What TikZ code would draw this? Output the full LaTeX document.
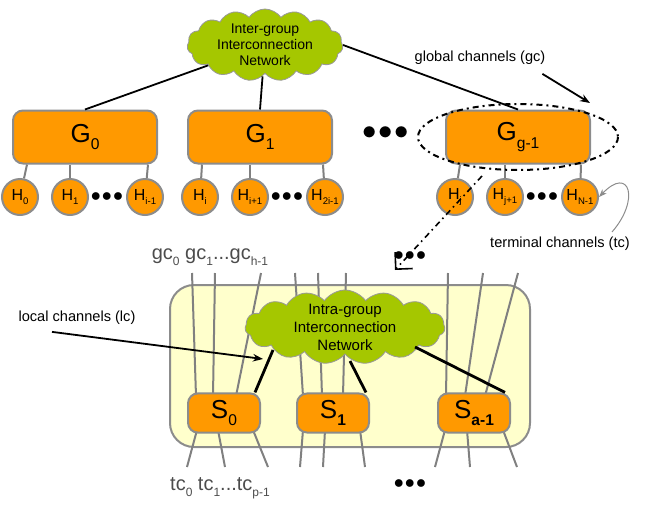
\documentclass[tikz,border=0pt]{standalone}
\usepackage{fontspec}
\setmainfont{Liberation Sans}
\usetikzlibrary{shapes.symbols,arrows.meta}
\definecolor{boxorange}{HTML}{FF9900}
\definecolor{cloudgreen}{HTML}{A5C700}
\definecolor{panelyellow}{HTML}{FFFFCC}
\newcommand{\sub}[2]{{#1}\raisebox{-0.55ex}{\scalebox{0.6}{#2}}}
\begin{document}
\begin{tikzpicture}
  [x=0.5pt, y=-0.5pt]
  \tikzstyle{edge} = [draw=black!50, line width=1pt];
  \tikzstyle{group} = [draw=black!45, line width=1pt, fill=boxorange, rounded corners=5pt, minimum width=72pt, minimum height=26.5pt, font=\fontsize{13}{13}\selectfont];
  \tikzstyle{switch} = [group, minimum width=36pt, minimum height=18.5pt];
  \tikzstyle{host} = [draw=black!45, line width=1pt, fill=boxorange, circle, minimum size=18pt, inner sep=0pt, font=\fontsize{8}{8}\selectfont];
  \tikzstyle{net} = [cloud, cloud puffs=15, cloud puff arc=110, draw=black!40, fill=cloudgreen, inner sep=0pt];
  \tikzstyle{nettext} = [align=center, font=\fontsize{7}{8}\selectfont];
  \tikzstyle{link} = [black, line width=0.9pt];
  \tikzstyle{label} = [font=\fontsize{7.3}{7.3}\selectfont];

  \useasboundingbox (0,0) rectangle (664,504);

  % top level
  \node[net, minimum width=78pt, minimum height=36pt, aspect=2.2] (inter) at (265,45) {};
  \node[nettext] (intertext) at (inter) {Inter-group\\Interconnection\\Network};

  \node[group] (g0) at (85,137) {\sub{G}{0}};
  \node[group] (g1) at (260,137) {\sub{G}{1}};
  \node[group] (gg) at (518,137) {\sub{G}{g-1}};
  \node[font=\fontsize{14}{14}\selectfont] (gdots) at (386,133) {$\bullet\!\bullet\!\bullet$};

  \draw[link] (inter) -- (g0.north);
  \draw[link] (inter) -- (g1.north);
  \draw[link] (inter.east) -- (gg.north);

  \node[host] (h0) at (20,197) {\sub{H}{0}};
  \node[host] (h1) at (70,197) {\sub{H}{1}};
  \node[host] (h2) at (145,197) {\sub{H}{i-1}};
  \node[host] (h3) at (200,197) {\sub{H}{i}};
  \node[host] (h4) at (250,197) {\sub{H}{i+1}};
  \node[host] (h5) at (325,197) {\sub{H}{2i-1}};
  \node[host] (h6) at (455,197) {\sub{H}{j}};
  \node[host] (h7) at (505,197) {\sub{H}{j+1}};
  \node[host] (h8) at (580,197) {\sub{H}{N-1}};
  \node (hd0) at (107,197) {$\bullet\!\bullet\!\bullet$};
  \node (hd1) at (287,197) {$\bullet\!\bullet\!\bullet$};
  \node (hd2) at (542,197) {$\bullet\!\bullet\!\bullet$};

  \draw[edge] (g0.south west) ++(15,0) coordinate (a) (a) -- (h0);
  \draw[edge] (h1) -- (h1 |- g0.south);
  \draw[edge] (g0.south east) ++(-10,0) coordinate (b) (b) -- (h2);
  \draw[edge] (g1.south west) ++(15,0) coordinate (c) (c) -- (h3);
  \draw[edge] (h4) -- (h4 |- g1.south);
  \draw[edge] (g1.south east) ++(-10,0) coordinate (d) (d) -- (h5);
  \draw[edge] (gg.south west) ++(15,0) coordinate (e) (e) -- (h6);
  \draw[edge] (h7) -- (h7 |- gg.south);
  \draw[edge] (gg.south east) ++(-10,0) coordinate (f) (f) -- (h8);

  % zoom ellipse and labels
  \draw[line width=1pt, dash dot] (gg) ellipse (100 and 33);
  \node[label] (gclab) at (480,58) {global channels (gc)};
  \coordinate (gctip) at (590,103);
  \draw[link, -{Stealth[length=5pt]}] (gclab.south east) ++(-10,2) coordinate (gcs) (gcs) -- (gctip);
  \coordinate (zoomfrom) at (482,176);
  \coordinate (zoomto) at (395,270);
  \draw[line width=0.8pt, dash dot, -{Straight Barb[length=6pt]}] (zoomfrom) -- (zoomto);
  \node[label] (tclab) at (560,244) {terminal channels (tc)};
  \coordinate (tcfrom) at (612,232);
  \draw[draw=black!45, line width=0.5pt, -{Stealth[length=4pt]}] (tcfrom) .. controls (640,200) and (630,165) .. (h8.east);

  % group detail
  \node[draw=black!45, line width=1pt, fill=panelyellow, rounded corners=12pt, minimum width=180pt, minimum height=81pt] (panel) at (350,366) {};

  \foreach \xa/\xb in {192/196, 215/213, 261/236, 295/303, 318/322, 346/343, 448/446, 483/465, 518/485}
    \draw[edge] (\xa,273) -- (\xb,396);
  \foreach \xa/\xb in {197/187, 218/225, 253/268, 303/300, 325/323, 360/365, 445/435, 467/470, 503/517}
    \draw[edge] (\xa,430) -- (\xb,467);

  \node[net, minimum width=100pt, minimum height=37pt, aspect=2.7] (intra) at (345,327) {};
  \node[nettext, font=\fontsize{7.5}{9}\selectfont] (intratext) at (intra) {Intra-group\\Interconnection\\Network};

  \node[switch] (s0) at (224,413) {\sub{S}{0}};
  \node[switch] (s1) at (333,413) {\sub{S}{\textbf{1}}};
  \node[switch] (sa) at (474,413) {\sub{S}{\textbf{a-1}}};

  \draw[line width=1.4pt] (s0.north east) ++(-6,0) coordinate (s0t) (s0t) -- (273,350);
  \draw[line width=1.4pt] (s1.north east) ++(-4,0) coordinate (s1t) (s1t) -- (350,361);
  \draw[line width=1.4pt] (sa.north east) ++(-6,0) coordinate (sat) (sat) -- (415,347);

  \node[font=\fontsize{10}{10}\selectfont, black!70] (gcs0) at (210,257) {\sub{gc}{0} \sub{gc}{1}...\sub{gc}{h-1}};
  \node[font=\fontsize{10}{10}\selectfont, black!70] (tcs0) at (220,488) {\sub{tc}{0} \sub{tc}{1}...\sub{tc}{p-1}};
  \node (topdots) at (410,256) {$\bullet\!\bullet\!\bullet$};
  \node (botdots) at (410,484) {$\bullet\!\bullet\!\bullet$};

  \node[label] (lclab) at (77,318) {local channels (lc)};
  \coordinate (lctip) at (263,359);
  \draw[link, -{Stealth[length=5pt]}] (lclab.south) ++(-25,0) coordinate (lcs) (lcs) -- (lctip);
\end{tikzpicture}
\end{document}
